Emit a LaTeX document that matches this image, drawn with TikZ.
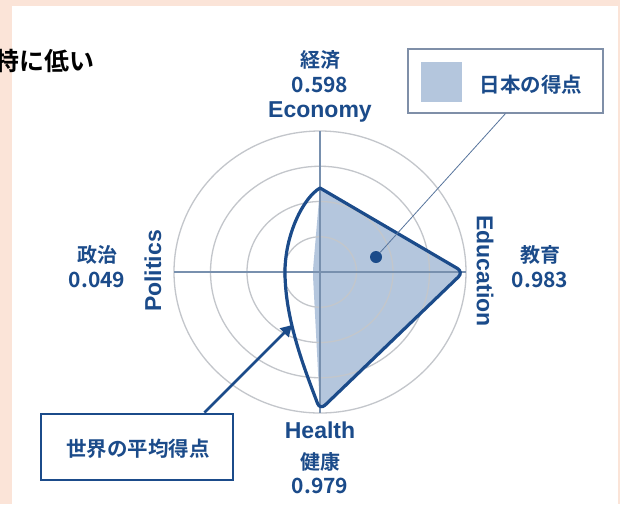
\documentclass[tikz,border=0pt]{standalone}
\usepackage{fontspec}
\setmainfont{Liberation Sans}
\newfontfamily\jpfont{Noto Sans CJK JP}[BoldFont={Noto Sans CJK JP Bold}]
\usetikzlibrary{arrows.meta}
\definecolor{navy}{HTML}{1B4B8A}
\definecolor{jpfill}{HTML}{B4C6DD}
\definecolor{ringgray}{HTML}{C3C6CB}
\definecolor{axisblue}{HTML}{7890AE}
\definecolor{pagebg}{HTML}{FBE4D8}
\definecolor{legendgray}{HTML}{7F8FA8}
\tikzset{
  jplbl/.style={font=\jpfont\bfseries\fontsize{20}{20}\selectfont,text=navy,inner sep=0pt},
  numlbl/.style={font=\jpfont\bfseries\fontsize{21}{21}\selectfont,text=navy,inner sep=0pt},
  axlbl/.style={font=\bfseries\fontsize{23}{23}\selectfont,text=navy,inner sep=0pt},
  ring/.style={ringgray,line width=1.3pt},
  axisline/.style={axisblue,line width=1.2pt},
  worldline/.style={navy,line width=3.2pt,line join=round}
}

\begin{document}
\begin{tikzpicture}[x=1pt,y=-1pt]
\useasboundingbox (0,0) rectangle (620,504);
\fill[pagebg] (0,0) rectangle (620,504);
\fill[white] (12,6) rectangle (618,504);
\node[anchor=west,inner sep=0pt,font=\jpfont\bfseries\fontsize{25}{25}\selectfont] (note) at (-6,61) {特に低い};

\coordinate (ctr) at (320,272);
\coordinate (jpeco) at (320,188);
\coordinate (jpedu) at (463.5,272);
\coordinate (jphea) at (320,410);
\coordinate (jppol) at (312.8,272);
\coordinate (wlpol) at (285,272);

\fill[jpfill,rounded corners=6pt] (jpeco) -- (jpedu) -- (jphea) -- (jppol) -- cycle;
\foreach \r in {1,...,4}
  \draw[ring] (ctr) ellipse [x radius={36.5pt*\r}, y radius={35.25pt*\r}];
\draw[axisline] (ctr) ++(-146,0) -- ++(292,0);
\draw[axisline] (ctr) ++(0,-141) -- ++(0,282);

\draw[worldline] (jpeco) [rounded corners=7pt] -- (jpedu) -- (jphea) [sharp corners]
  .. controls (305,370) and (285,320) .. (wlpol)
  .. controls (285,235) and (303,198) .. (jpeco) -- cycle;

% labels
\node[jplbl] (ecojp) at (320,60) {経済};
\node[numlbl] (ecoval) at (320,85) {0.598};
\node[axlbl] (eco) at (320,112) {Economy};
\node[axlbl,rotate=90] (pol) at (153,271) {Politics};
\node[jplbl] (poljp) at (97,255) {政治};
\node[numlbl] (polval) at (97,280) {0.049};
\node[axlbl,rotate=-90] (edu) at (485,271) {Education};
\node[jplbl] (edujp) at (540,255) {教育};
\node[numlbl] (eduval) at (540,280) {0.983};
\node[axlbl] (hea) at (320,430) {Health};
\node[jplbl] (heajp) at (320,462) {健康};
\node[numlbl] (heaval) at (320,486) {0.979};

% legend
\node[draw=legendgray,line width=1.1pt,minimum width=195pt,minimum height=64pt,inner sep=0pt] (jplegend) at (505.5,81) {};
\node[fill=jpfill,minimum width=41pt,minimum height=40pt,inner sep=0pt] (jpswatch) at (441.5,82) {};
\node[jplbl,font=\jpfont\bfseries\fontsize{20.5}{21}\selectfont] (jptext) at (531,85) {日本の得点};
\node[circle,fill=navy,minimum size=12pt,inner sep=0pt] (jpdot) at (376,257) {};
\draw[legendgray!60!navy,line width=0.8pt] (jpdot) -- (jplegend.south);

\node[draw=navy,line width=2.8pt,minimum width=192pt,minimum height=66pt,inner sep=0pt] (wlbox) at (137,447) {};
\node[jplbl,font=\jpfont\bfseries\fontsize{20.5}{21}\selectfont] (wltext) at (138,449) {世界の平均得点};
\coordinate (wltip) at (292,325);
\draw[navy,line width=2.8pt,-{Triangle[length=11pt,width=12pt]}] ([xshift=-30pt]wlbox.north east) -- (wltip);
\end{tikzpicture}
\end{document}
